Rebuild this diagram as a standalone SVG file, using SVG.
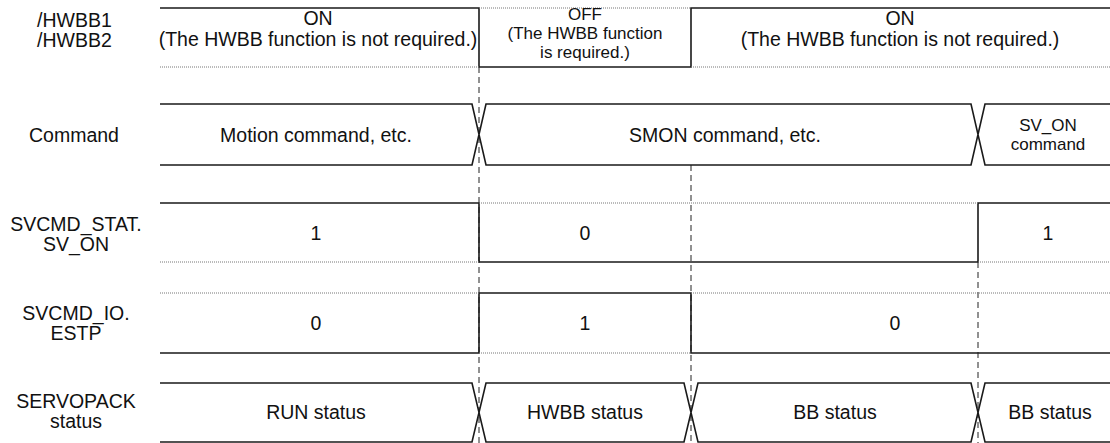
<svg xmlns="http://www.w3.org/2000/svg" width="1110" height="443" viewBox="0 0 1110 443">
<style>
text{font-family:"Liberation Sans",Arial,sans-serif;font-size:19.5px;fill:#111;text-anchor:middle}
.st{text-anchor:start}
.sm{font-size:17px}
.s{stroke:#1a1a1a;stroke-width:1.6;fill:none}
.d{stroke:#777;stroke-width:1;stroke-dasharray:1 1;fill:none}
.g{stroke:#222;stroke-width:1;stroke-dasharray:6 4;fill:none}
</style>
<rect width="1110" height="443" fill="#fff"/>
<g id="connectors">
<path class="g" d="M479 67V443M691 165V443M978 262V443"/>
</g>
<g id="row-hwbb">
<text class="st" x="37" y="27">/HWBB1</text>
<text class="st" x="37" y="47">/HWBB2</text>
<path class="s" d="M160 8H479V67H691V8H1110"/>
<path class="d" d="M160 67H479M479 8H691M691 67H1110"/>
<text x="318" y="25">ON</text>
<text x="318" y="46">(The HWBB function is not required.)</text>
<text class="sm" x="585" y="20">OFF</text>
<text class="sm" x="585" y="39">(The HWBB function</text>
<text class="sm" x="585" y="58">is required.)</text>
<text x="900" y="25">ON</text>
<text x="900" y="46">(The HWBB function is not required.)</text>
</g>
<g id="row-command">
<text x="74" y="142">Command</text>
<path class="s" d="M160 104H472L486 165H971L985 104H1110M160 165H472L486 104H971L985 165H1110"/>
<text x="316" y="142">Motion command, etc.</text>
<text x="725" y="142">SMON command, etc.</text>
<text class="sm" x="1048" y="131">SV_ON</text>
<text class="sm" x="1048" y="150">command</text>
</g>
<g id="row-svon">
<text x="76" y="231">SVCMD_STAT.</text>
<text x="76" y="251">SV_ON</text>
<path class="s" d="M160 203H479V262H978V203H1110"/>
<path class="d" d="M160 262H479M479 203H978M978 262H1110"/>
<text x="316" y="240">1</text>
<text x="585" y="240">0</text>
<text x="1048" y="240">1</text>
</g>
<g id="row-estp">
<text x="76" y="320">SVCMD_IO.</text>
<text x="76" y="340">ESTP</text>
<path class="s" d="M160 353H479V293H691V353H1110"/>
<path class="d" d="M160 293H479M479 353H691M691 293H1110"/>
<text x="316" y="330">0</text>
<text x="585" y="330">1</text>
<text x="895" y="330">0</text>
</g>
<g id="row-servopack">
<text x="76" y="408">SERVOPACK</text>
<text x="76" y="428">status</text>
<path class="s" d="M160 383H472L486 442H684L698 383H971L985 442H1110M160 442H472L486 383H684L698 442H971L985 383H1110"/>
<text x="316" y="419">RUN status</text>
<text x="585" y="419">HWBB status</text>
<text x="835" y="419">BB status</text>
<text x="1050" y="419">BB status</text>
</g>
</svg>
